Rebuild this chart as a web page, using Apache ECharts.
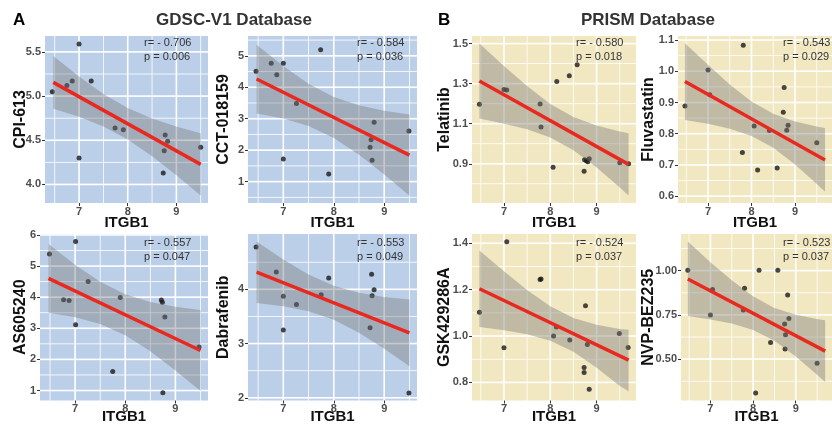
<!DOCTYPE html>
<html><head><meta charset="utf-8">
<script src="https://cdn.jsdelivr.net/npm/echarts@6/dist/echarts.min.js"></script>
<style>html,body{margin:0;padding:0;background:#fff}#c{width:832px;height:425px}</style>
</head><body><div id="c"></div>
<script>
// ---------- DATA ----------
const xTicks = [7, 8, 9];
const xRangeA = [6.30, 9.65];
const xRangeB = [6.31, 9.85];
const fitXA = [6.47, 9.50];
const fitXB = [6.47, 9.69];
const bandXA = [6.47, 7.0, 7.5, 8.0, 8.5, 9.0, 9.5];
const bandXB = [6.47, 7.0, 7.5, 8.0, 8.5, 9.0, 9.5, 9.69];

// GDSC-V1
const cpi613X = [6.45, 6.75, 6.86, 7.00, 7.00, 7.25, 7.74, 7.91, 8.77, 8.82, 8.75, 8.73, 9.50];
const cpi613Y = [5.05, 5.12, 5.17, 5.59, 4.30, 5.17, 4.64, 4.62, 4.56, 4.49, 4.38, 4.13, 4.42];
const cpi613Fit = [5.155, 4.227];
const cpi613Up = [5.454, 5.221, 5.023, 4.864, 4.747, 4.657, 4.579];
const cpi613Lo = [4.857, 4.765, 4.657, 4.509, 4.319, 4.103, 3.875];
const cpi613Ticks = [4.0, 4.5, 5.0, 5.5];
const cpi613Range = [3.79, 5.68];

const cctX = [6.46, 6.76, 6.87, 7.00, 7.00, 7.26, 7.74, 7.90, 8.80, 8.74, 8.72, 8.76, 9.49];
const cctY = [4.51, 4.76, 4.40, 4.76, 1.72, 3.48, 5.19, 1.24, 2.89, 2.33, 2.09, 1.68, 2.61];
const cctFit = [4.262, 1.842];
const cctUp = [5.355, 4.673, 4.109, 3.690, 3.426, 3.255, 3.131];
const cctLo = [3.169, 3.005, 2.769, 2.390, 1.856, 1.227, 0.553];
const cctTicks = [1, 2, 3, 4, 5];
const cctRange = [0.32, 5.63];

const asX = [6.49, 7.01, 6.77, 6.88, 7.01, 7.26, 7.90, 7.75, 8.72, 8.74, 8.79, 8.75, 9.47];
const asY = [5.39, 5.79, 3.92, 3.89, 3.11, 4.50, 3.99, 1.61, 3.91, 3.84, 3.36, 0.93, 2.40];
const asFit = [4.605, 2.287];
const asUp = [5.708, 5.041, 4.493, 4.091, 3.844, 3.693, 3.587];
const asLo = [3.502, 3.359, 3.141, 2.779, 2.260, 1.647, 0.987];
const asTicks = [1, 2, 3, 4, 5, 6];
const asRange = [0.68, 6.03];

const dabX = [6.46, 6.86, 7.00, 7.00, 7.26, 7.75, 7.90, 8.75, 8.80, 8.76, 8.72, 9.49];
const dabY = [4.78, 4.32, 3.87, 3.25, 3.72, 3.90, 4.21, 4.28, 3.99, 3.88, 3.29, 2.09];
const dabFit = [4.316, 3.196];
const dabUp = [4.882, 4.551, 4.275, 4.064, 3.935, 3.860, 3.810];
const dabLo = [3.750, 3.689, 3.597, 3.438, 3.197, 2.902, 2.582];
const dabTicks = [2, 3, 4];
const dabRange = [1.95, 5.02];

// PRISM
const telX = [6.47, 7.00, 7.06, 7.78, 7.80, 8.06, 8.14, 8.41, 8.58, 8.73, 8.74, 8.78, 8.81, 8.84, 9.50, 9.69];
const telY = [1.197, 1.271, 1.268, 1.198, 1.084, 0.883, 1.311, 1.339, 1.395, 0.863, 0.920, 0.915, 0.910, 0.925, 0.905, 0.900];
const telFit = [1.313, 0.897];
const telUp = [1.500, 1.388, 1.288, 1.199, 1.133, 1.091, 1.061, 1.052];
const telLo = [1.126, 1.100, 1.072, 1.031, 0.967, 0.881, 0.781, 0.742];
const telTicks = [0.9, 1.1, 1.3, 1.5];
const telRange = [0.704, 1.538];

const fluX = [6.47, 7.00, 7.04, 7.79, 7.81, 8.06, 8.14, 8.41, 8.59, 8.75, 8.73, 8.81, 8.84, 9.50];
const fluY = [0.889, 1.004, 0.925, 0.740, 1.083, 0.825, 0.684, 0.810, 0.690, 0.948, 0.869, 0.811, 0.827, 0.771];
const fluFit = [0.967, 0.716];
const fluUp = [1.090, 1.021, 0.958, 0.903, 0.864, 0.839, 0.823, 0.818];
const fluLo = [0.844, 0.832, 0.816, 0.793, 0.755, 0.701, 0.639, 0.614];
const fluTicks = [0.6, 0.7, 0.8, 0.9, 1.0, 1.1];
const fluRange = [0.578, 1.113];

const gskX = [6.47, 7.00, 7.06, 7.78, 7.80, 8.07, 8.13, 8.42, 8.73, 8.73, 8.76, 8.80, 8.84, 9.49, 9.68];
const gskY = [1.103, 0.950, 1.407, 1.244, 1.246, 1.000, 1.039, 0.983, 0.864, 0.843, 1.131, 0.963, 0.771, 1.011, 0.951];
const gskFit = [1.204, 0.896];
const gskUp = [1.369, 1.279, 1.198, 1.128, 1.078, 1.049, 1.030, 1.027];
const gskLo = [1.039, 1.025, 1.008, 0.980, 0.932, 0.863, 0.784, 0.762];
const gskTicks = [0.8, 1.0, 1.2, 1.4];
const gskRange = [0.722, 1.44];

const nvpX = [6.47, 7.00, 7.05, 7.77, 7.80, 8.06, 8.14, 8.41, 8.58, 8.74, 8.76, 8.75, 8.81, 8.84, 9.50];
const nvpY = [1.002, 0.749, 0.894, 0.777, 0.900, 0.309, 1.002, 0.594, 1.002, 0.698, 0.638, 0.557, 0.862, 0.730, 0.477];
const nvpFit = [0.953, 0.545];
const nvpUp = [1.164, 1.048, 0.945, 0.855, 0.789, 0.751, 0.727, 0.719];
const nvpLo = [0.743, 0.724, 0.701, 0.665, 0.603, 0.515, 0.412, 0.371];
const nvpTicks = [0.50, 0.75, 1.00];
const nvpRange = [0.266, 1.207];

const drugNames = ['CPI-613', 'CCT-018159', 'AS605240', 'Dabrafenib', 'Telatinib', 'Fluvastatin', 'GSK429286A', 'NVP-BEZ235'];
const rValues = ['- 0.706', '- 0.584', '- 0.557', '- 0.553', '- 0.580', '- 0.543', '- 0.524', '- 0.523'];
const pValues = ['0.006', '0.036', '0.047', '0.049', '0.018', '0.029', '0.037', '0.037'];
const panelTitles = ['GDSC-V1 Database', 'PRISM Database'];
const panelLetters = ['A', 'B'];
const xName = 'ITGB1';

// ---------- STYLE / LAYOUT ----------
const FONT = 'Liberation Sans, Arial, Helvetica, sans-serif';
const BLUE = '#BCCFE8', BEIGE = '#F1E7C1';
const layout = [
  {l: 45,  t: 36,  w: 163, h: 167, yGap: 16.5, xGap: 12,  ax: 144, ay: 43},
  {l: 248, t: 36,  w: 169, h: 167, yGap: 16.5, xGap: 12,  ax: 357, ay: 43},
  {l: 40,  t: 234, w: 168, h: 167, yGap: 11.5, xGap: 8.5, ax: 144, ay: 243},
  {l: 248, t: 234, w: 169, h: 167, yGap: 16.5, xGap: 8.5, ax: 357, ay: 243},
  {l: 472, t: 36,  w: 164, h: 167, yGap: 19,   xGap: 12,  ax: 576, ay: 43},
  {l: 678, t: 36,  w: 164, h: 167, yGap: 21,   xGap: 12,  ax: 783, ay: 43},
  {l: 472, t: 234, w: 164, h: 167, yGap: 19,   xGap: 8.5, ax: 576, ay: 243},
  {l: 681, t: 234, w: 160, h: 167, yGap: 24,   xGap: 8.5, ax: 783, ay: 243}
];

const panels = [
  {x: cpi613X, y: cpi613Y, fit: cpi613Fit, up: cpi613Up, lo: cpi613Lo, ticks: cpi613Ticks, yr: cpi613Range, dec: 1, A: true},
  {x: cctX, y: cctY, fit: cctFit, up: cctUp, lo: cctLo, ticks: cctTicks, yr: cctRange, dec: 0, A: true},
  {x: asX, y: asY, fit: asFit, up: asUp, lo: asLo, ticks: asTicks, yr: asRange, dec: 0, A: true},
  {x: dabX, y: dabY, fit: dabFit, up: dabUp, lo: dabLo, ticks: dabTicks, yr: dabRange, dec: 0, A: true},
  {x: telX, y: telY, fit: telFit, up: telUp, lo: telLo, ticks: telTicks, yr: telRange, dec: 1, A: false},
  {x: fluX, y: fluY, fit: fluFit, up: fluUp, lo: fluLo, ticks: fluTicks, yr: fluRange, dec: 1, A: false},
  {x: gskX, y: gskY, fit: gskFit, up: gskUp, lo: gskLo, ticks: gskTicks, yr: gskRange, dec: 1, A: false},
  {x: nvpX, y: nvpY, fit: nvpFit, up: nvpUp, lo: nvpLo, ticks: nvpTicks, yr: nvpRange, dec: 2, A: false}
];

function minorLines(ticks, range) {
  const step = ticks[1] - ticks[0];
  const out = [];
  for (let v = ticks[0] - step / 2; v <= range[1] + 1e-9; v += step) {
    if (v >= range[0] - 1e-9) out.push(+v.toFixed(4));
  }
  return out;
}

// split [start,end] into cells separated by gaps (the white grid lines)
function cells(start, end, lines) {
  const out = [];
  let s = start;
  lines.sort((a, b) => a.c - b.c).forEach(g => {
    const e = g.c - g.w / 2;
    if (e > s) out.push([s, e]);
    s = Math.max(s, g.c + g.w / 2);
  });
  if (end > s) out.push([s, end]);
  return out;
}

const grids = [], xAxes = [], yAxes = [], series = [], graphics = [];
panels.forEach((p, i) => {
  const L = layout[i];
  const xr = p.A ? xRangeA : xRangeB;
  const bx = p.A ? bandXA : bandXB;
  const fx = p.A ? fitXA : fitXB;
  const bg = p.A ? BLUE : BEIGE;
  grids.push({left: L.l, top: L.t, width: L.w, height: L.h, show: false, containLabel: false});
  xAxes.push({gridIndex: i, type: 'value', min: xr[0], max: xr[1],
    splitLine: {show: false}, axisLine: {show: false},
    axisTick: {show: true, customValues: xTicks, length: 3, lineStyle: {color: '#333', width: 1}},
    axisLabel: {customValues: xTicks, margin: 3, color: '#4D4D4D', fontSize: 11, fontWeight: 'bold', fontFamily: FONT,
      formatter: v => String(v)},
    name: xName, nameLocation: 'middle', nameGap: L.xGap, nameMoveOverlap: false,
    nameTextStyle: {color: '#111', fontSize: 15, fontWeight: 'bold', fontFamily: FONT}});
  yAxes.push({gridIndex: i, type: 'value', min: p.yr[0], max: p.yr[1],
    splitLine: {show: false}, axisLine: {show: false},
    axisTick: {show: true, customValues: p.ticks, length: 3, lineStyle: {color: '#333', width: 1}},
    axisLabel: {customValues: p.ticks, margin: 4, color: '#4D4D4D', fontSize: 11, fontWeight: 'bold', fontFamily: FONT,
      formatter: v => Number(v).toFixed(p.dec)},
    name: drugNames[i], nameLocation: 'middle', nameGap: L.yGap, nameRotate: 90, nameMoveOverlap: false,
    nameTextStyle: {color: '#111', fontSize: 16, fontWeight: 'bold', fontFamily: FONT}});

  // panel background drawn as coloured cells; the gaps between them form the white ggplot grid lines
  const gl = [];
  minorLines(xTicks, xr).forEach(v => { if (xTicks.indexOf(v) < 0) gl.push({v: v, vert: true, w: 0.8}); });
  minorLines(p.ticks, p.yr).forEach(v => { if (!p.ticks.some(t => Math.abs(t - v) < 1e-6)) gl.push({v: v, vert: false, w: 0.8}); });
  xTicks.forEach(v => gl.push({v: v, vert: true, w: 1.6}));
  p.ticks.forEach(v => gl.push({v: v, vert: false, w: 1.6}));
  series.push({type: 'custom', coordinateSystem: 'cartesian2d', xAxisIndex: i, yAxisIndex: i, silent: true,
    z: 1, data: [[xr[0], p.yr[0]]], encode: {x: 0, y: 1},
    renderItem: (params, api) => {
      const tl = api.coord([xr[0], p.yr[1]]), br = api.coord([xr[1], p.yr[0]]);
      const vx = gl.filter(g => g.vert).map(g => ({c: api.coord([g.v, p.yr[0]])[0], w: g.w}));
      const hy = gl.filter(g => !g.vert).map(g => ({c: api.coord([xr[0], g.v])[1], w: g.w}));
      const cx = cells(tl[0], br[0], vx), cy = cells(tl[1], br[1], hy);
      const children = [];
      cx.forEach(a => cy.forEach(b => children.push({type: 'rect',
        shape: {x: a[0], y: b[0], width: a[1] - a[0], height: b[1] - b[0]}, style: {fill: bg}})));
      return {type: 'group', children: children};
    }});

  // points
  series.push({type: 'scatter', xAxisIndex: i, yAxisIndex: i, symbolSize: 5, silent: true, z: 3,
    itemStyle: {color: '#1A1A1A'}, data: p.x.map((v, k) => [v, p.y[k]])});

  // confidence band (polygon through upper then lower edge)
  const bandData = bx.map((v, k) => [v, p.lo[k], p.up[k]]);
  series.push({type: 'custom', coordinateSystem: 'cartesian2d', xAxisIndex: i, yAxisIndex: i, silent: true, z: 4,
    clip: true, data: bandData, encode: {x: 0, y: [1, 2]},
    renderItem: (params, api) => {
      if (params.dataIndex !== 0) return null;
      const pts = [];
      bandData.forEach(d => pts.push(api.coord([d[0], d[2]])));
      for (let k = bandData.length - 1; k >= 0; k--) pts.push(api.coord([bandData[k][0], bandData[k][1]]));
      return {type: 'polygon', shape: {points: pts, smooth: 0}, style: {fill: 'rgba(120,120,120,0.40)'}};
    }});

  // regression line
  series.push({type: 'line', xAxisIndex: i, yAxisIndex: i, symbol: 'none', silent: true, z: 5,
    lineStyle: {color: '#E8291F', width: 3.5}, data: fx.map((v, k) => [v, p.fit[k]])});

  graphics.push({type: 'text', x: L.ax, y: L.ay, z: 10, style: {text: 'r= ' + rValues[i], font: '11px ' + FONT, fill: '#333', align: 'left', verticalAlign: 'middle'}});
  graphics.push({type: 'text', x: L.ax, y: L.ay + 13.5, z: 10, style: {text: 'p = ' + pValues[i], font: '11px ' + FONT, fill: '#333', align: 'left', verticalAlign: 'middle'}});
});

graphics.push({type: 'text', x: 234, y: 20, style: {text: panelTitles[0], font: 'bold 17px ' + FONT, fill: '#333', align: 'center', verticalAlign: 'middle'}});
graphics.push({type: 'text', x: 648, y: 20, style: {text: panelTitles[1], font: 'bold 17px ' + FONT, fill: '#333', align: 'center', verticalAlign: 'middle'}});
graphics.push({type: 'text', x: 13, y: 20, style: {text: panelLetters[0], font: 'bold 17px ' + FONT, fill: '#000', align: 'left', verticalAlign: 'middle'}});
graphics.push({type: 'text', x: 438, y: 20, style: {text: panelLetters[1], font: 'bold 17px ' + FONT, fill: '#000', align: 'left', verticalAlign: 'middle'}});

const chart = echarts.init(document.getElementById('c'), null, {renderer: 'canvas'});
chart.setOption({
  animation: false,
  backgroundColor: '#fff',
  textStyle: {fontFamily: FONT},
  grid: grids, xAxis: xAxes, yAxis: yAxes, series: series, graphic: graphics
});
</script></body></html>
